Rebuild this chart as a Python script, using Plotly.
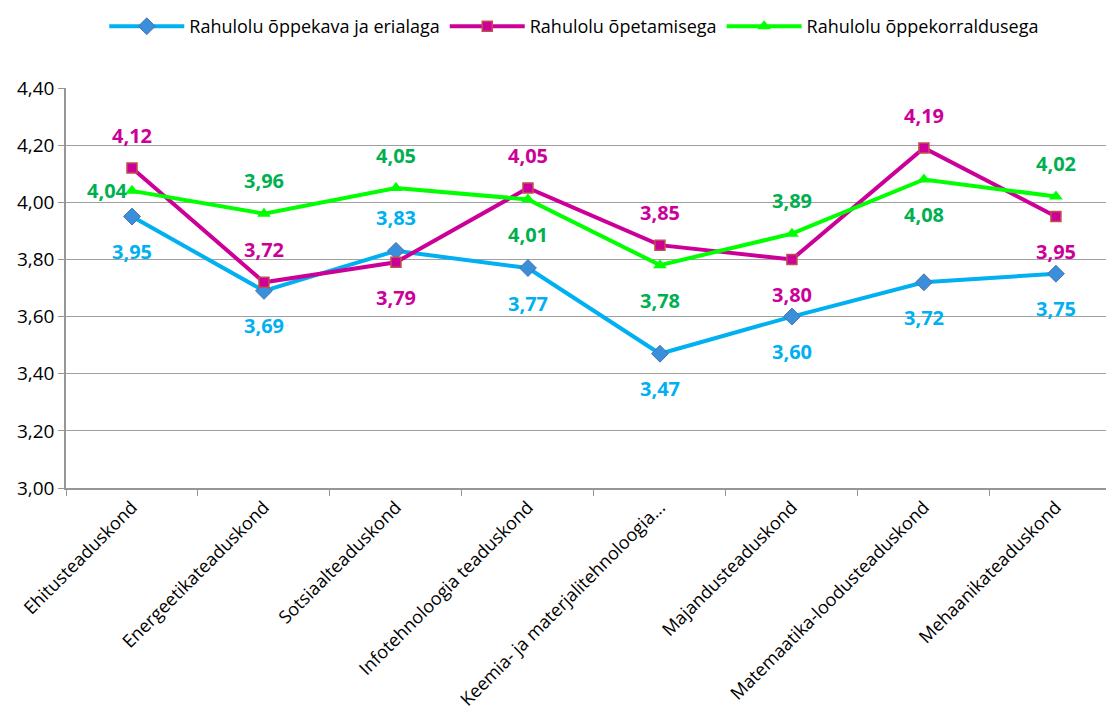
import plotly.graph_objects as go

categories = [
    "Ehitusteaduskond", "Energeetikateaduskond", "Sotsiaalteaduskond",
    "Infotehnoloogia teaduskond", "Keemia- ja materjalitehnoloogia...",
    "Majandusteaduskond", "Matemaatika-loodusteaduskond", "Mehaanikateaduskond",
]
oppekava = [3.95, 3.69, 3.83, 3.77, 3.47, 3.60, 3.72, 3.75]
opetamine = [4.12, 3.72, 3.79, 4.05, 3.85, 3.80, 4.19, 3.95]
korraldus = [4.04, 3.96, 4.05, 4.01, 3.78, 3.89, 4.08, 4.02]

# label placement per point: "u" above, "d" below, "l" left
pos_oppekava = ["d", "d", "u", "d", "d", "d", "d", "d"]
pos_opetamine = ["u", "u", "d", "u", "u", "d", "u", "d"]
pos_korraldus = ["l", "u", "u", "d", "d", "u", "d", "u"]

FONT = "Open Sans, Liberation Sans, sans-serif"

series = [
    ("Rahulolu õppekava ja erialaga", oppekava, pos_oppekava,
     "#00B0F0", "#00B0F0", dict(symbol="diamond", size=13, color="#3A8FDB", line=dict(color="#4F6FB0", width=1))),
    ("Rahulolu õpetamisega", opetamine, pos_opetamine,
     "#CC0099", "#CC0099", dict(symbol="square", size=10, color="#CC0099", line=dict(color="#C0504D", width=1.5))),
    ("Rahulolu õppekorraldusega", korraldus, pos_korraldus,
     "#00FF00", "#00B050", dict(symbol="triangle-up", size=12, color="#00FF00", line=dict(color="#00FF00", width=0))),
]

fig = go.Figure()
annotations = []
for name, vals, poss, lc, tc, mk in series:
    fig.add_trace(go.Scatter(
        x=categories, y=vals, name=name, mode="lines+markers",
        line=dict(color=lc, width=4), marker=mk,
    ))
    for c, v, p in zip(categories, vals, poss):
        a = dict(x=c, y=v, text="<b>" + f"{v:.2f}".replace(".", ",") + "</b>", showarrow=False,
                 font=dict(family=FONT, size=20, color=tc),
                 xanchor="center", yanchor="middle")
        if p == "u":
            a["yshift"] = 33
        elif p == "d":
            a["yshift"] = -35
        else:
            a["xanchor"] = "right"
            a["xshift"] = -2
        annotations.append(a)

# page body adds 8px around the figure, so the figure is 8px smaller
fig.update_layout(
    width=1106, height=705,
    paper_bgcolor="white", plot_bgcolor="white",
    margin=dict(l=58, r=0, t=78, b=225),
    font=dict(family=FONT, color="#000000"),
    annotations=annotations,
    legend=dict(orientation="h", x=0.485, xanchor="center", y=1.155, yanchor="middle",
                font=dict(size=18), itemwidth=75, traceorder="normal"),
    showlegend=True,
    separators=", ",
)
fig.update_xaxes(
    type="category", range=[-0.5, 7.44], tickangle=-45, tickfont=dict(size=18),
    showline=True, linecolor="#969696", linewidth=1.5, ticks="outside",
    tickson="boundaries", ticklen=6, tickcolor="#969696", showgrid=False,
    automargin=False,
)
fig.update_yaxes(
    range=[3.0, 4.4], dtick=0.2, tickformat=".2f",
    showgrid=True, gridcolor="#A0A0A0", gridwidth=1.2,
    showline=True, linecolor="#969696", linewidth=1.5, ticks="outside",
    ticklen=6, tickcolor="#969696", tickfont=dict(size=19), zeroline=False,
    automargin=False,
)

fig.write_html("out.html")
